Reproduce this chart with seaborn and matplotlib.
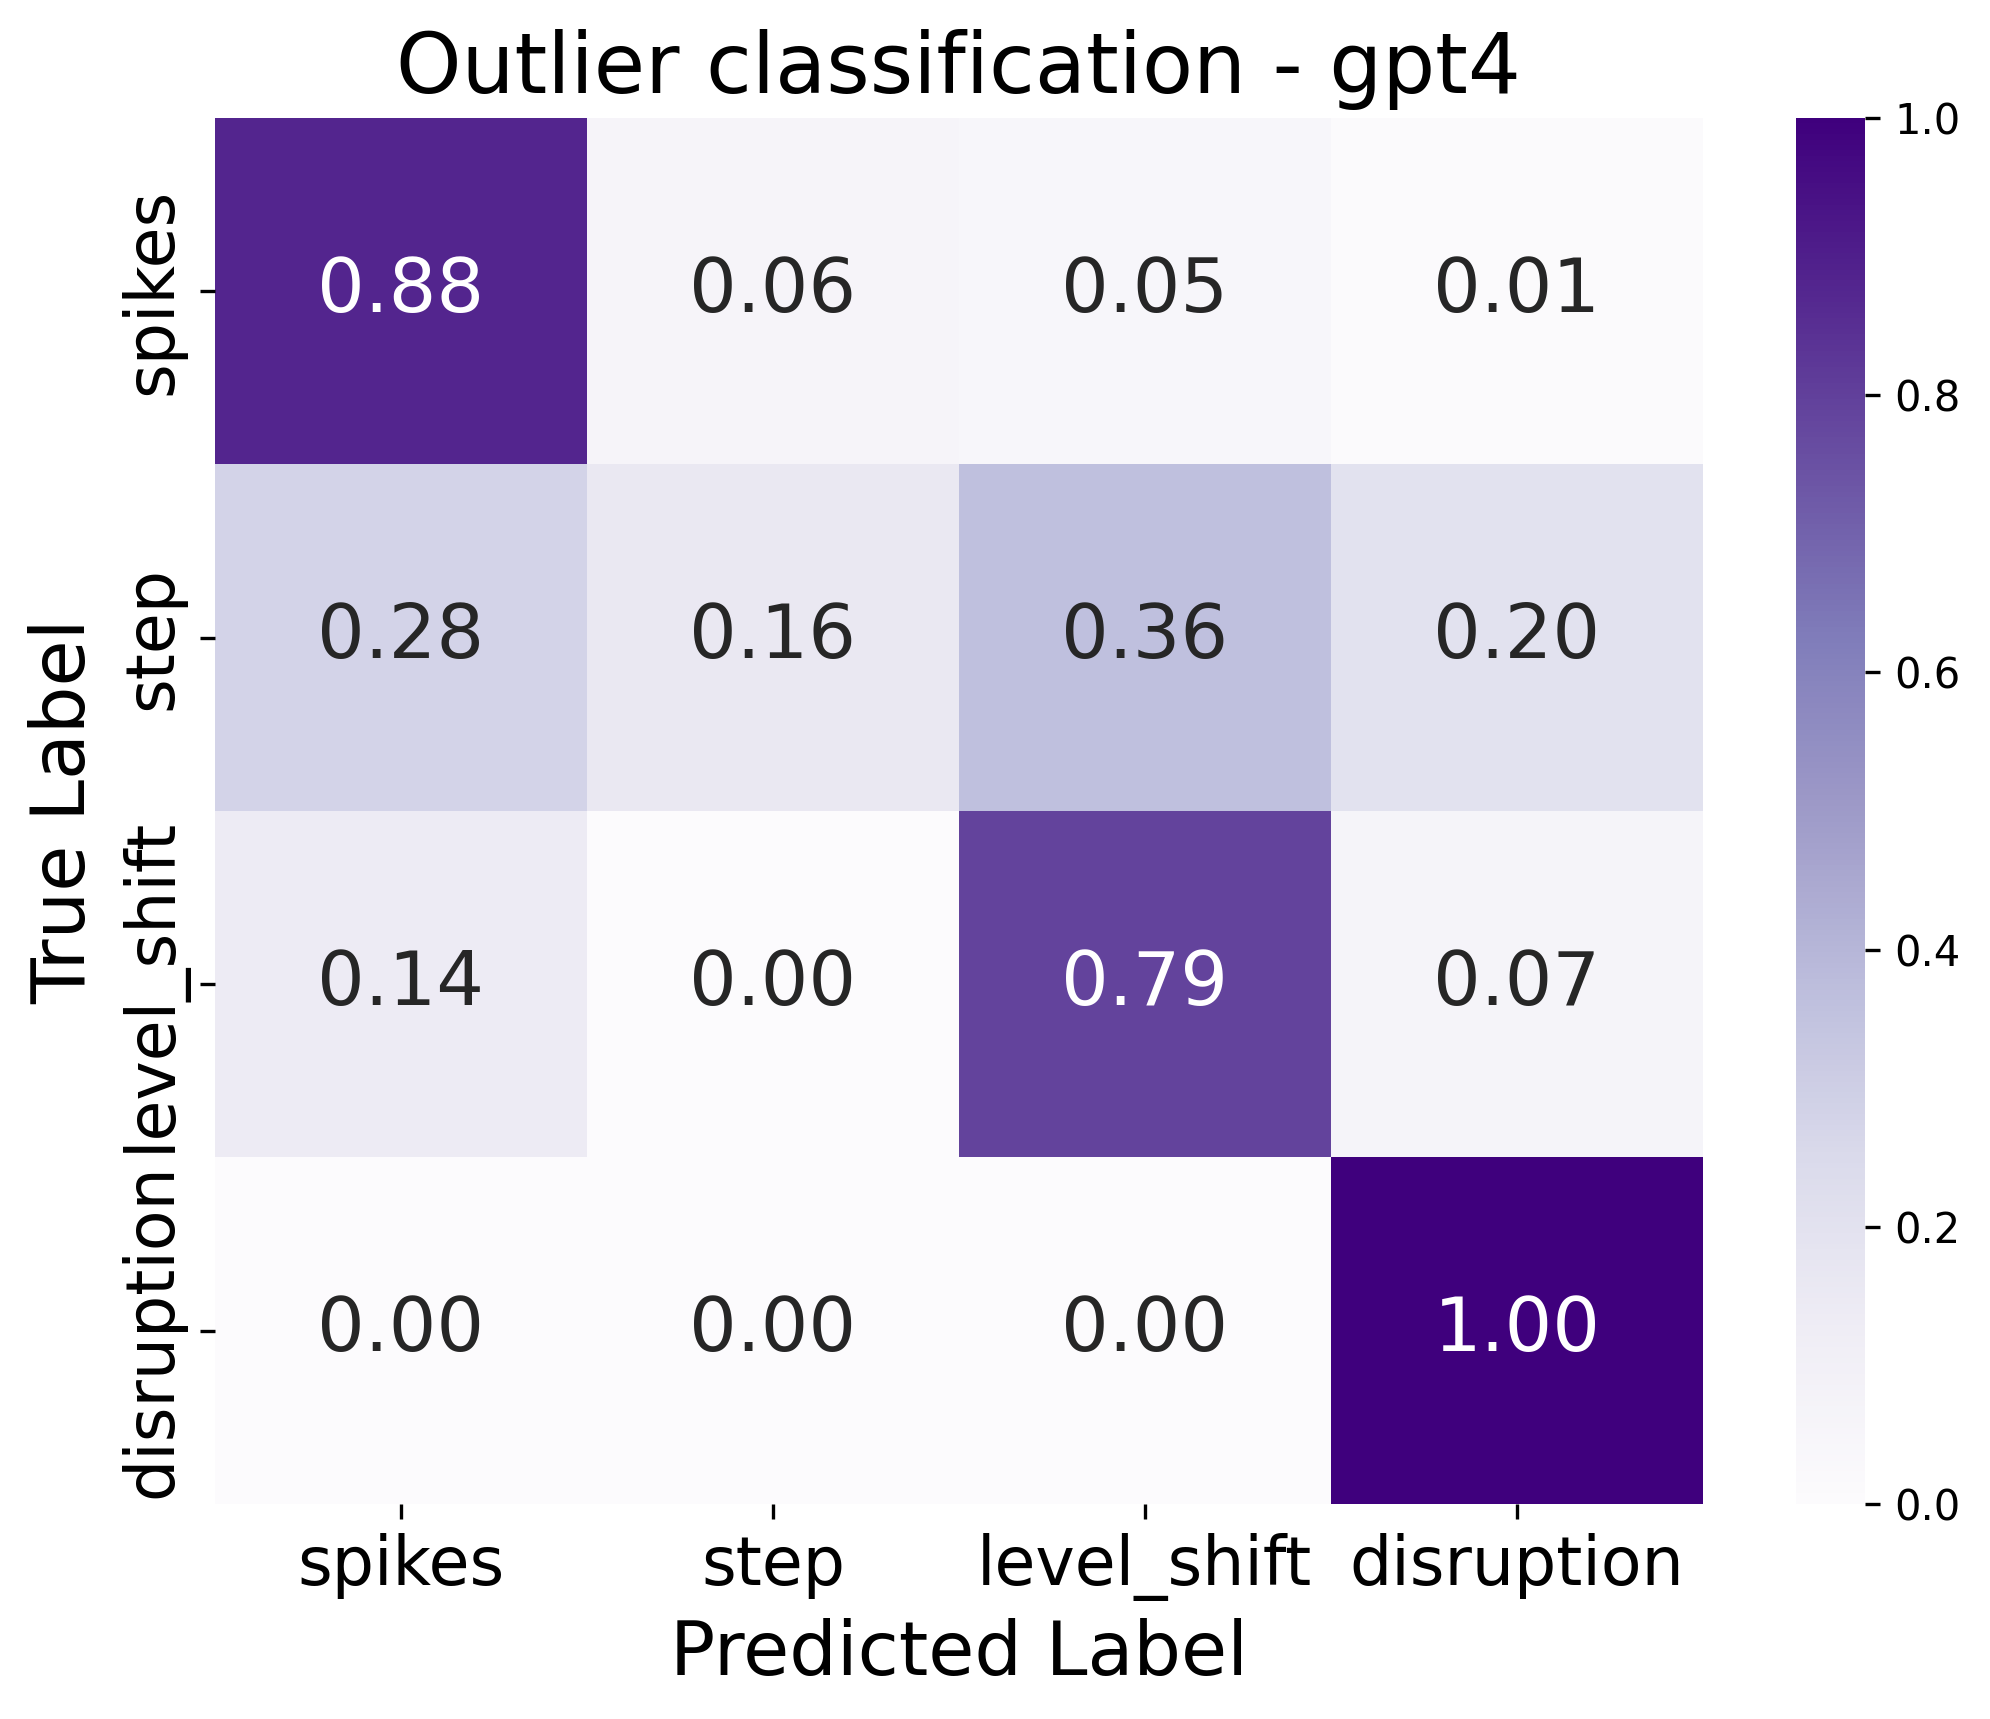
import numpy as np
import pandas as pd
import matplotlib
matplotlib.use("Agg")
from matplotlib import pyplot as plt
import seaborn as sns

# confusion matrix values (rows = true, cols = predicted)
labels = ['spikes', 'step', 'level_shift', 'disruption']
row_spikes = [0.88, 0.06, 0.05, 0.01]
row_step = [0.28, 0.16, 0.36, 0.20]
row_level_shift = [0.14, 0.00, 0.79, 0.07]
row_disruption = [0.00, 0.00, 0.00, 1.00]

cm = pd.DataFrame([row_spikes, row_step, row_level_shift, row_disruption],
                  index=labels, columns=labels)

fig = plt.figure(figsize=(1990 / 300, 1719 / 300), dpi=300)
ax = fig.add_axes([0.108, 0.1251, 0.7477, 0.8063])
cax = fig.add_axes([0.9025, 0.1251, 0.0347, 0.8063])

sns.heatmap(cm, annot=True, fmt='.2f', cmap='Purples', vmin=0, vmax=1,
            ax=ax, cbar_ax=cax, annot_kws={'size': 18})

ax.set_title('Outlier classification - gpt4', fontsize=20)
ax.set_xlabel('Predicted Label', fontsize=18)
ax.set_ylabel('True Label', fontsize=18)
ax.tick_params(axis='both', labelsize=16)
cax.tick_params(labelsize=10)

fig.savefig('out.png', dpi=300)
